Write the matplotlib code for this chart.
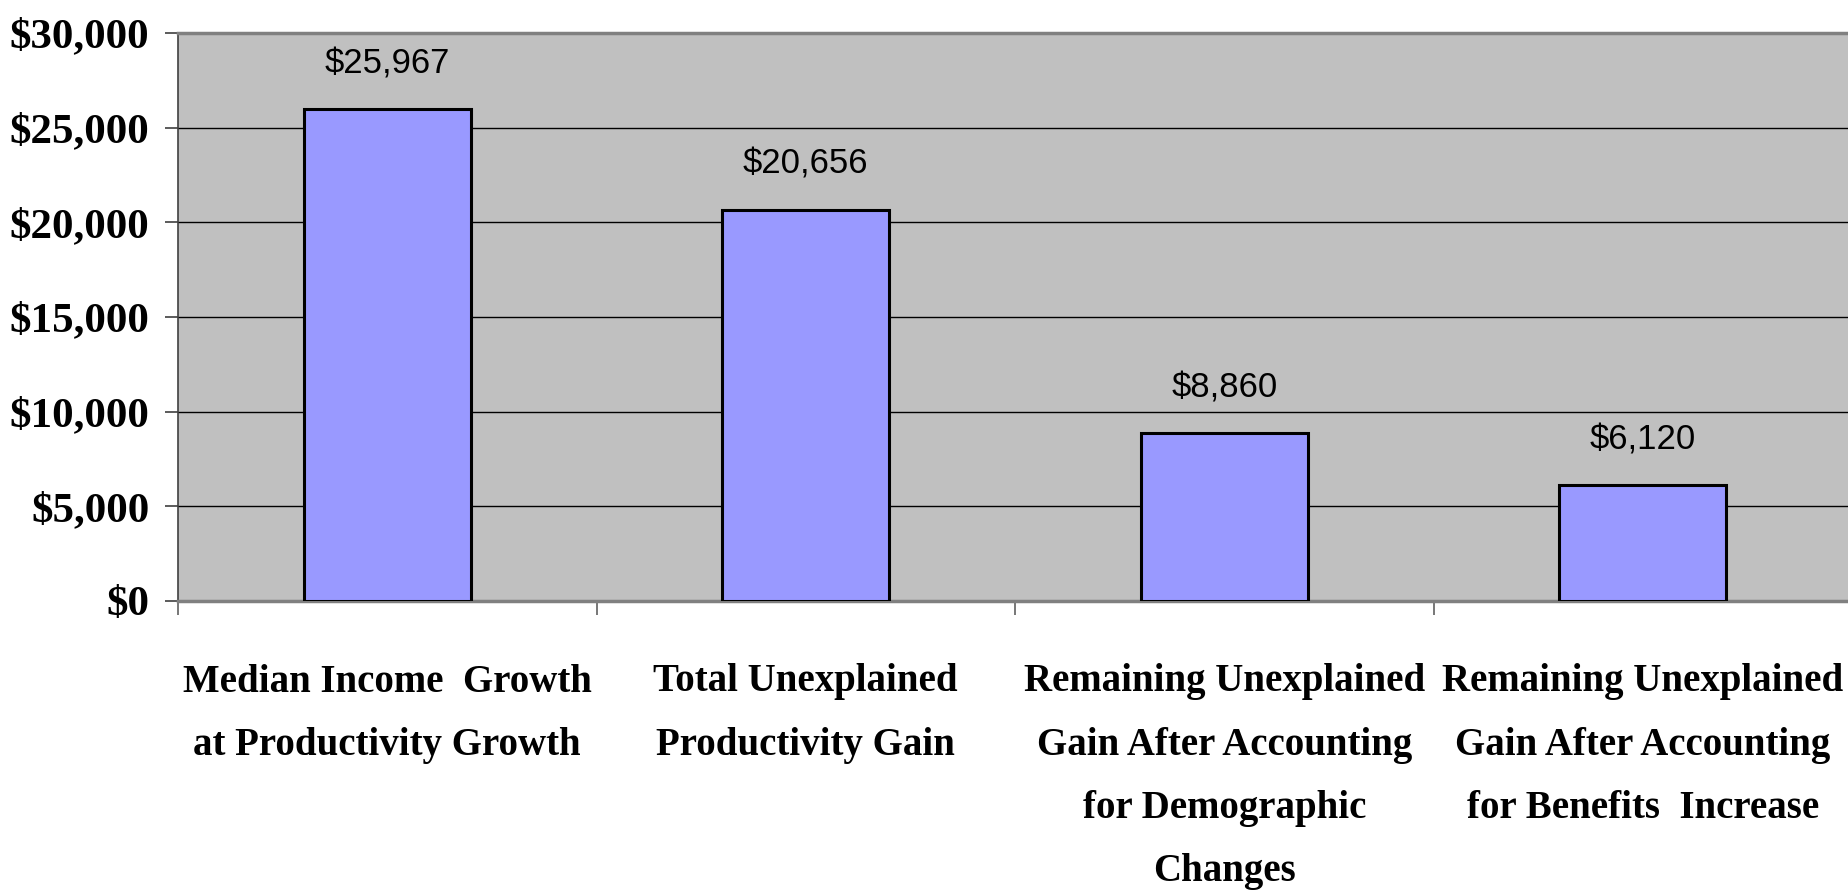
import numpy as np
import matplotlib
matplotlib.use('Agg')
import matplotlib.pyplot as plt
from matplotlib.ticker import FuncFormatter, FixedLocator

# chart data
categories = ['Median Income  Growth\nat Productivity Growth',
              'Total Unexplained\nProductivity Gain',
              'Remaining Unexplained\nGain After Accounting\nfor Demographic\nChanges',
              'Remaining Unexplained\nGain After Accounting\nfor Benefits  Increase']
values = [25967, 20656, 8860, 6120]
yticks = [0, 5000, 10000, 15000, 20000, 25000, 30000]

barColor = '#9999FF'
plotBg = '#C0C0C0'
serifFont = ['Liberation Serif', 'DejaVu Serif']
narrowFont = ['Liberation Sans Narrow', 'Liberation Sans', 'DejaVu Sans']

fig = plt.figure(figsize=(18.49, 8.94), dpi=100)
ax = fig.add_axes([178 / 1849, 1 - 601 / 894, (1852 - 178) / 1849, (601 - 33) / 894])
ax.set_facecolor(plotBg)

x = np.arange(len(values))
ax.bar(x, values, width=0.4, color=barColor, edgecolor='black', linewidth=2.2, zorder=3)

# value labels above bars
for xi, v in zip(x, values):
    ax.annotate('${:,}'.format(v), (xi, v), xytext=(0, 26), textcoords='offset points',
                ha='center', va='baseline', fontsize=25, family=narrowFont, color='black')

ax.set_xlim(-0.5, 3.5)
ax.set_ylim(0, 30000)
ax.yaxis.set_major_locator(FixedLocator(yticks))
ax.yaxis.set_major_formatter(FuncFormatter(lambda v, p: '${:,.0f}'.format(v)))
ax.grid(axis='y', color='black', linewidth=1, zorder=0)
ax.set_axisbelow(True)

# category labels at bar centers, tick marks at category boundaries
ax.set_xticks(x)
ax.set_xticklabels(categories, fontsize=28, fontweight='bold', family=serifFont, linespacing=1.93)
ax.set_xticks(np.arange(-0.5, 4.0, 1.0), minor=True)
ax.tick_params(axis='x', which='major', length=0, pad=45)
ax.tick_params(axis='x', which='minor', length=10, width=1.2, color='#606060', direction='out')
ax.tick_params(axis='y', length=9.5, width=1.2, color='#404040', pad=11, labelsize=31)
for lab in ax.get_yticklabels():
    lab.set_fontweight('bold')
    lab.set_family(serifFont)

ax.spines['top'].set_color('#808080')
ax.spines['top'].set_linewidth(2.5)
ax.spines['bottom'].set_color('#808080')
ax.spines['bottom'].set_linewidth(2.5)
ax.spines['left'].set_color('#404040')
ax.spines['left'].set_linewidth(1.2)
ax.spines['right'].set_visible(False)

fig.savefig('out.png', dpi=100, facecolor='white')
